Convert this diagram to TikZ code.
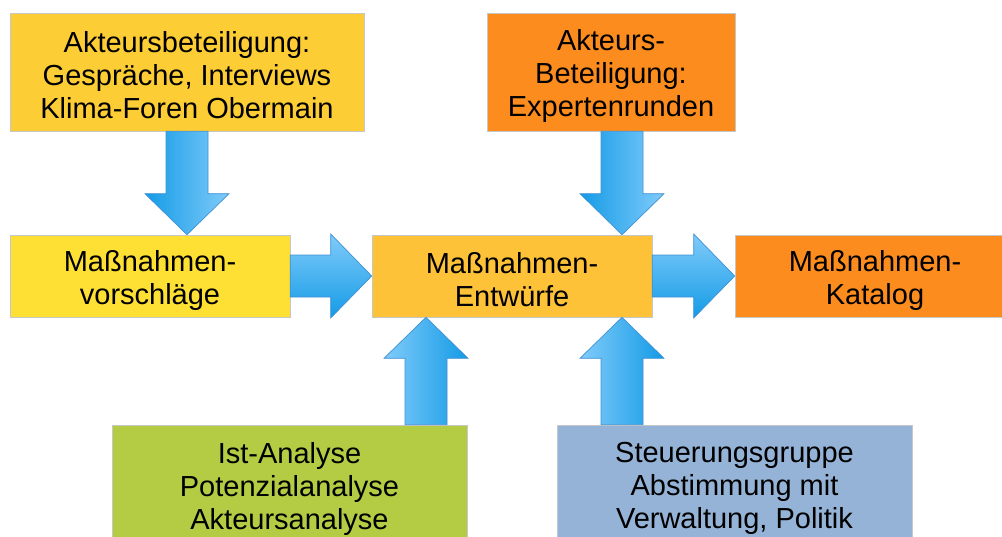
\documentclass[tikz,border=0pt]{standalone}
\usepackage{fontspec}
\setmainfont{Liberation Sans}
\usetikzlibrary{calc}

\definecolor{golden}{HTML}{FDCD35}
\definecolor{lemon}{HTML}{FEE034}
\definecolor{amber}{HTML}{FDC238}
\definecolor{tangerine}{HTML}{FC8C1E}
\definecolor{olive}{HTML}{B4CB44}
\definecolor{steel}{HTML}{95B3D6}
\definecolor{arrlight}{HTML}{80CBFA}
\definecolor{arrdark}{HTML}{149BE6}
\definecolor{arrline}{HTML}{3F90D2}

\tikzset{
  stage/.style={draw=black!22, line width=0.6pt, inner sep=0pt},
  stagetext/.style={align=center, inner sep=0pt,
    font=\fontsize{29}{33}\selectfont},
  blockarrow/.style={draw=arrline, line width=0.7pt, line join=miter},
  shadedown/.style={left color=arrdark, right color=arrlight},
  shadeup/.style={left color=arrlight, right color=arrdark},
  shaderight/.style={top color=arrlight, bottom color=arrdark},
}

% block arrow from tail point #2 to tip point #3
\newcommand\blockarrow[3][]{%
  \coordinate (ba-tail) at (#2);
  \coordinate (ba-tip) at (#3);
  \coordinate (ba-base) at ($(ba-tip)!41pt!(ba-tail)$);
  \shade[blockarrow,#1]
    ($(ba-tail)!21pt!90:(ba-tip)$) -- ($(ba-base)!21pt!-90:(ba-tail)$)
    -- ($(ba-base)!42pt!-90:(ba-tail)$) -- (ba-tip)
    -- ($(ba-base)!42pt!90:(ba-tail)$) -- ($(ba-base)!21pt!90:(ba-tail)$)
    -- ($(ba-tail)!21pt!-90:(ba-tip)$) -- cycle;
}

\begin{document}
\begin{tikzpicture}[x=1pt,y=-1pt]
  \useasboundingbox (0,0) rectangle (1002,536);
  \clip (0,0) rectangle (1002,536);

  % stages
  \node[stage, fill=golden, minimum width=354, minimum height=118,
    label={[stagetext, yshift=-3.5pt]center:{Akteursbeteiligung:\\Gespräche, Interviews\\Klima-Foren Obermain}}]
    (a) at (187,72) {};
  \node[stage, fill=tangerine, minimum width=248, minimum height=118,
    label={[stagetext, yshift=-3.5pt]center:{Akteurs-\\Beteiligung:\\Expertenrunden}}]
    (b) at (611,72) {};
  \node[stage, fill=lemon, minimum width=280, minimum height=82,
    label={[stagetext, yshift=-4pt]center:{Maßnahmen-\\vorschläge}}]
    (v) at (150,276) {};
  \node[stage, fill=amber, minimum width=280, minimum height=82,
    label={[stagetext, yshift=-4pt]center:{Maßnahmen-\\Entwürfe}}]
    (m) at (512,276) {};
  \node[stage, fill=tangerine, minimum width=280, minimum height=82,
    label={[stagetext, yshift=-4pt]center:{Maßnahmen-\\Katalog}}]
    (k) at (875,276) {};
  \node[stage, fill=olive, minimum width=355, minimum height=123,
    label={[stagetext, yshift=-2pt]center:{Ist-Analyse\\Potenzialanalyse\\Akteursanalyse}}]
    (g) at (289.5,486.5) {};
  \node[stage, fill=steel, minimum width=355, minimum height=123,
    label={[stagetext, yshift=-2pt]center:{Steuerungsgruppe\\Abstimmung mit\\Verwaltung, Politik}}]
    (s) at (734.5,486.5) {};

  % arrow columns
  \coordinate (colL) at (426,0);
  \coordinate (colR) at (622,0);

  % flows
  \blockarrow[shadedown]{a.south}{a.south |- v.north}
  \blockarrow[shadedown]{colR |- b.south}{colR |- m.north}
  \blockarrow[shaderight]{v.east}{m.west}
  \blockarrow[shaderight]{m.east}{k.west}
  \blockarrow[shadeup]{colL |- g.north}{colL |- m.south}
  \blockarrow[shadeup]{colR |- s.north}{colR |- m.south}
\end{tikzpicture}
\end{document}
